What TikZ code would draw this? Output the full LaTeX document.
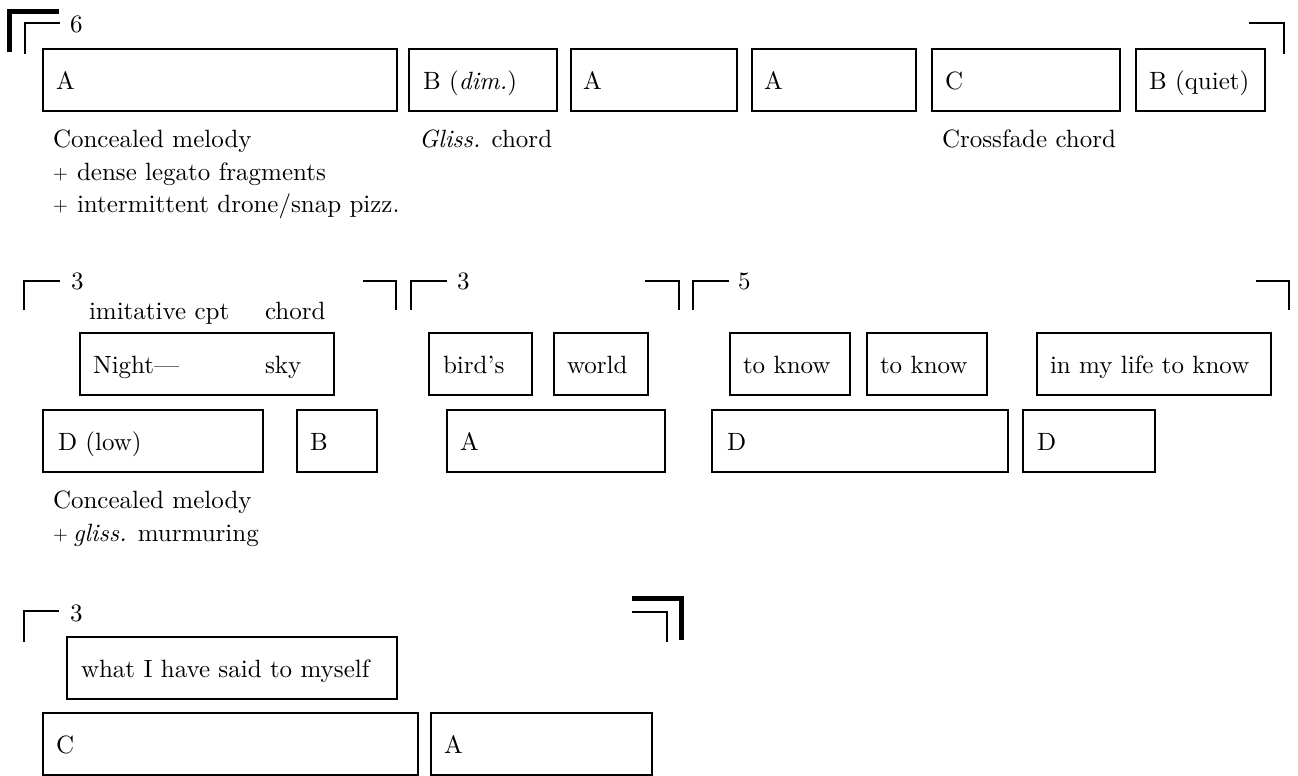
\documentclass[tikz,border=0pt]{standalone}
\usepackage{fontspec}
\setmainfont{lmroman10-regular.otf}[ItalicFont=lmroman10-italic.otf, BoldFont=lmroman10-bold.otf]
\usetikzlibrary{calc}

\tikzset{
  cell/.style={draw, line width=2.5pt, inner sep=0pt, outer sep=0pt},
  word/.style={font=\fontsize{25pt}{30pt}\selectfont, inner sep=0pt, outer sep=0pt},
  thinbr/.style={line width=2pt, line join=miter},
  thickbr/.style={line width=5pt, line join=miter},
}

% box from (x1,y1) to (x2,y2) with its text starting at x = #6
\newcommand\cellbox[7]{%
  \node[cell, minimum width={#4-#2}, minimum height={#5-#3}] (#1) at ({(#2+#4)/2},{(#3+#5)/2}) {};
  \node[word, anchor=base west] (#1-t) at (#6,{(#3+#5)/2+9}) {#7};}

\newcommand\smallplus{{\fontsize{19pt}{19pt}\selectfont\raisebox{1pt}{+}}}

\begin{document}
\begin{tikzpicture}[x=1pt, y=-1pt]
\useasboundingbox (0,0) rectangle (1298,776);

% ---------- first system ----------
\draw[thickbr] (9.5,52) -- (9.5,11.5) -- (59,11.5);
\draw[thinbr] (24.5,54) -- (24.5,23.5) -- (60,23.5);
\draw[thinbr] (1249,23.5) -- (1284,23.5) -- (1284,54);
\node[word, anchor=base west] (n6) at (70,33) {6};

\cellbox{ra}{43}{49}{397}{111}{56}{A}
\cellbox{rb}{409}{49}{557}{111}{423}{B (\textit{dim.})}
\cellbox{rc}{571}{49}{737}{111}{583}{A}
\cellbox{rd}{752}{49}{916}{111}{764}{A}
\cellbox{re}{932}{49}{1120}{111}{945}{C}
\cellbox{rf}{1136}{49}{1265}{111}{1149}{B (quiet)}

\node[word, anchor=base west] (capa1) at (53,147) {Concealed melody};
\node[word, anchor=base west] (capa2) at (53,180) {\makebox[24pt][l]{\smallplus}dense legato fragments};
\node[word, anchor=base west] (capa3) at (53,212) {\makebox[24pt][l]{\smallplus}intermittent drone/snap pizz.};
\node[word, anchor=base west] (capb) at (419,147) {\textit{Gliss.} chord};
\node[word, anchor=base west] (capc) at (942,147) {Crossfade chord};

% ---------- second system ----------
\draw[thinbr] (24,310) -- (24,281) -- (60,281);
\draw[thinbr] (363,281) -- (396,281) -- (396,310);
\draw[thinbr] (411,310) -- (411,281) -- (447,281);
\draw[thinbr] (645,281) -- (679,281) -- (679,310);
\draw[thinbr] (693,310) -- (693,281) -- (729,281);
\draw[thinbr] (1256,281) -- (1289,281) -- (1289,310);
\node[word, anchor=base west] (n3a) at (71,289) {3};
\node[word, anchor=base west] (n3b) at (457,289) {3};
\node[word, anchor=base west] (n5) at (738,289) {5};

\node[word, anchor=base west] (imit) at (89,319) {imitative cpt};
\node[word, anchor=base west] (chd) at (265,319) {chord};

\cellbox{night}{80}{333}{334}{395}{93}{Night—}
\node[word, anchor=base west] (sky) at (265,373) {sky};
\cellbox{bird}{429}{333}{532}{395}{443}{bird’s}
\cellbox{world}{554}{333}{648}{395}{567}{world}
\cellbox{knowa}{730}{333}{850}{395}{743}{to know}
\cellbox{knowb}{867}{333}{987}{395}{880}{to know}
\cellbox{life}{1037}{333}{1271}{395}{1050}{in my life to know}

\cellbox{dlow}{43}{410}{263}{472}{58}{D (low)}
\cellbox{bb}{297}{410}{377}{472}{310}{B}
\cellbox{aa}{447}{410}{665}{472}{460}{A}
\cellbox{da}{712}{410}{1008}{472}{727}{D}
\cellbox{db}{1023}{410}{1155}{472}{1037}{D}

\node[word, anchor=base west] (capd1) at (53,508) {Concealed melody};
\node[word, anchor=base west] (capd2) at (53,541) {\makebox[20pt][l]{\smallplus}\textit{gliss.} murmuring};

% ---------- third system ----------
\draw[thinbr] (24,642) -- (24,611) -- (59,611);
\draw[thinbr] (632,611.5) -- (667,611.5) -- (667,642);
\draw[thickbr] (632,598.5) -- (681.5,598.5) -- (681.5,640);
\node[word, anchor=base west] (n3c) at (70,621) {3};

\cellbox{said}{67}{637}{397}{699}{81}{what I have said to myself}
\cellbox{cc}{43}{713}{418}{775}{56}{C}
\cellbox{ab}{431}{713}{652}{775}{444}{A}
\end{tikzpicture}
\end{document}
